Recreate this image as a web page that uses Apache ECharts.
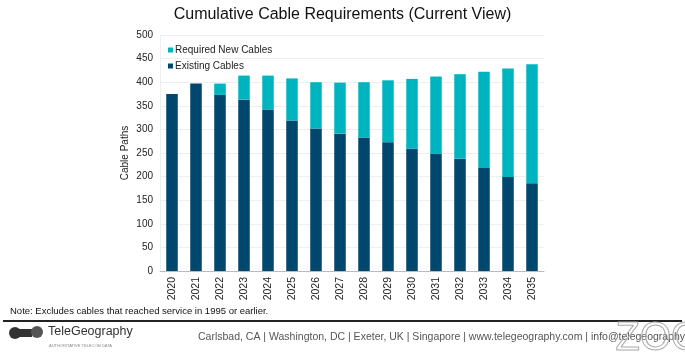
<!DOCTYPE html>
<html>
<head>
<meta charset="utf-8">
<script src="https://cdn.jsdelivr.net/npm/echarts@6/dist/echarts.min.js"></script>
<style>html,body{margin:0;padding:0;background:#fff;}#c{width:685px;height:356px;}</style>
</head>
<body>
<div id="c"></div>
<script>
var categories = ['2020','2021','2022','2023','2024','2025','2026','2027','2028','2029','2030','2031','2032','2033','2034','2035'];
var existingCables = [375, 397, 373, 363, 342, 319, 302, 291, 283, 273, 259, 248, 238, 218, 199, 186];
var requiredNewCables = [0, 0, 24, 51, 72, 89, 98, 108, 117, 131, 148, 164, 179, 204, 230, 252];
var yTicks = [0, 500, 50];

var chart = echarts.init(document.getElementById('c'));
var font = 'Liberation Sans, Arial, sans-serif';
chart.setOption({
  animation: false,
  textStyle: {fontFamily: font},
  title: {
    text: 'Cumulative Cable Requirements (Current View)',
    left: 'center', top: 2,
    textStyle: {fontSize: 16, fontWeight: 'normal', color: '#111', fontFamily: font}
  },
  legend: {
    orient: 'vertical', left: 163, top: 40,
    itemWidth: 5, itemHeight: 5, itemGap: 6,
    icon: 'rect',
    textStyle: {fontSize: 10, color: '#222', padding: [0,0,0,-3]},
    data: ['Required New Cables', 'Existing Cables']
  },
  grid: {left: 160, right: 141, top: 35, bottom: 85},
  xAxis: {
    type: 'category', data: categories,
    axisLabel: {rotate: 90, fontSize: 10.5, color: '#222', margin: 6},
    axisTick: {show: false},
    axisLine: {lineStyle: {color: '#bbb'}}
  },
  yAxis: {
    type: 'value', min: yTicks[0], max: yTicks[1], interval: yTicks[2],
    name: 'Cable Paths', nameLocation: 'middle', nameGap: 30, nameMoveOverlap: false,
    nameTextStyle: {fontSize: 10, color: '#222'},
    axisLabel: {fontSize: 10, color: '#222', margin: 7},
    axisLine: {show: true, lineStyle: {color: '#eee'}},
    splitLine: {lineStyle: {color: '#eee'}}
  },
  series: [
    {name: 'Existing Cables', type: 'bar', stack: 't', data: existingCables, barWidth: '48%',
     itemStyle: {color: '#00466d'}},
    {name: 'Required New Cables', type: 'bar', stack: 't', data: requiredNewCables,
     itemStyle: {color: '#00b4bf'}}
  ],
  graphic: [
    {type: 'text', left: 10, top: 306, style: {text: 'Note: Excludes cables that reached service in 1995 or earlier.', fontSize: 9.5, fill: '#111', fontFamily: font}},
    {type: 'line', shape: {x1: 3, y1: 321, x2: 682, y2: 321}, style: {stroke: '#222', lineWidth: 2}},
    {type: 'circle', shape: {cx: 15, cy: 333, r: 6}, style: {fill: '#333'}},
    {type: 'rect', shape: {x: 19, y: 329, width: 13, height: 8}, style: {fill: '#333'}},
    {type: 'circle', shape: {cx: 37, cy: 332, r: 6}, style: {fill: '#555'}},
    {type: 'text', left: 48, top: 325, style: {text: 'TeleGeography', fontSize: 12.5, fill: '#333', fontFamily: font}},
    {type: 'text', left: 49, top: 344, style: {text: 'AUTHORITATIVE TELECOM DATA', fontSize: 4, fill: '#888', fontFamily: font}},
    {type: 'text', left: 198, top: 332, style: {text: 'Carlsbad, CA | Washington, DC | Exeter, UK | Singapore | www.telegeography.com | info@telegeography.com', fontSize: 10.5, fill: '#555', fontFamily: font}},
    {type: 'text', left: 615, top: 318, style: {text: 'ZOO', fontSize: 40, fill: 'rgba(0,0,0,0)', stroke: '#aaa', lineWidth: 1, fontFamily: font}}
  ]
});
</script>
</body>
</html>
